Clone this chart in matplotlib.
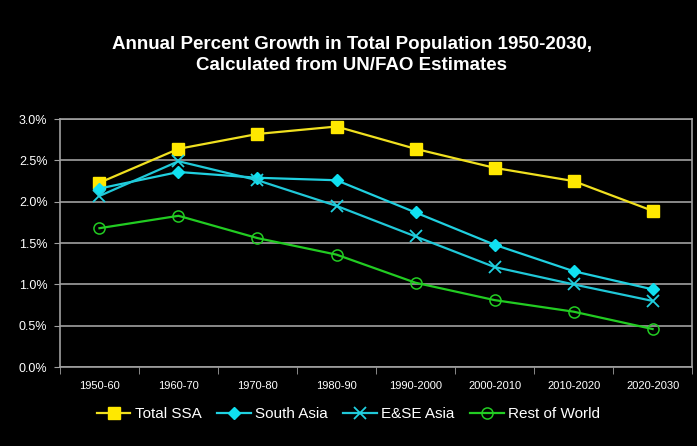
import matplotlib.pyplot as plt
import numpy as np
from matplotlib.ticker import FuncFormatter

# --- Données ---
periods = ["1950-60", "1960-70", "1970-80", "1980-90",
           "1990-2000", "2000-2010", "2010-2020", "2020-2030"]
total_ssa = [2.23, 2.64, 2.82, 2.91, 2.64, 2.41, 2.25, 1.89]
south_asia = [2.16, 2.36, 2.29, 2.26, 1.87, 1.48, 1.16, 0.94]
ese_asia = [2.07, 2.49, 2.26, 1.95, 1.58, 1.21, 1.00, 0.80]
rest_world = [1.68, 1.83, 1.56, 1.36, 1.02, 0.81, 0.67, 0.46]

plt.rcParams['font.family'] = ['Liberation Sans', 'DejaVu Sans']

fig = plt.figure(figsize=(6.97, 4.46), dpi=100, facecolor="black")
ax = fig.add_axes([0.086, 0.177, 0.907, 0.556], facecolor="black")

x = np.arange(len(periods))

ax.plot(x, total_ssa, color="#f0e020", lw=1.6, marker="s", ms=8,
        mfc="#ffe800", mec="#ffe800", label="Total SSA")
ax.plot(x, south_asia, color="#20d0e0", lw=1.6, marker="D", ms=6.5,
        mfc="#10e0f0", mec="#10e0f0", label="South Asia")
ax.plot(x, ese_asia, color="#20c8d8", lw=1.6, marker="x", ms=9, mew=1.3,
        mec="#20d0e0", label="E&SE Asia")
ax.plot(x, rest_world, color="#22cc22", lw=1.6, marker="o", ms=8,
        mfc="none", mec="#22cc22", mew=1.1, label="Rest of World")

# Mise en forme
ax.set_xlim(-0.5, len(periods) - 0.5)
ax.set_ylim(0, 3.0)
ax.set_yticks(np.arange(0, 3.01, 0.5))
ax.yaxis.set_major_formatter(FuncFormatter(lambda v, p: f"{v:.1f}%"))
ax.yaxis.grid(True, color="#a0a0a0", lw=1.2)
ax.set_axisbelow(True)

ax.set_xticks(x)
ax.set_xticklabels(periods)
ax.set_xticks(np.arange(-0.5, len(periods)), minor=True)
ax.tick_params(axis="x", which="major", length=0, pad=10, colors="white", labelsize=8)
ax.tick_params(axis="x", which="minor", length=5, color="#a0a0a0", direction="out")
ax.tick_params(axis="y", length=4, color="#a0a0a0", colors="white", labelsize=9, pad=5)

for s in ax.spines.values():
    s.set_color("#a0a0a0")
    s.set_linewidth(1.2)

fig.text(0.505, 0.877, "Annual Percent Growth in Total Population 1950-2030,\nCalculated from UN/FAO Estimates",
         color="white", fontsize=13.5, fontweight="bold", ha="center", va="center",
         linespacing=1.3)

leg = fig.legend(loc="center", bbox_to_anchor=(0.5, 0.072), ncol=4, frameon=False,
                 fontsize=11, handlelength=2.2, handletextpad=0.3, columnspacing=1.0)
for t in leg.get_texts():
    t.set_color("white")

plt.savefig("out.png", facecolor="black", dpi=100)
